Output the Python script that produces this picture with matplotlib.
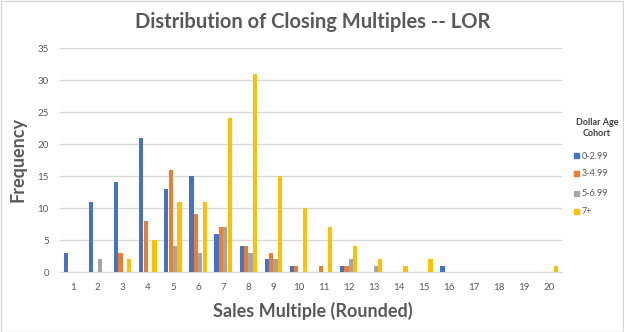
import numpy as np
import matplotlib
matplotlib.use('Agg')
import matplotlib.pyplot as plt
from matplotlib.patches import Rectangle

plt.rcParams['font.family'] = ['Lato', 'DejaVu Sans']

multiples = list(range(1, 21))
cohorts = ['0-2.99', '3-4.99', '5-6.99', '7+']
colors = ['#4472C4', '#ED7D31', '#A5A5A5', '#FFC000']

# frequencies per sales multiple (0 = no bar)
freq_0_3 = [3, 11, 14, 21, 13, 15, 6, 4, 2, 1, 0, 1, 0, 0, 0, 1, 0, 0, 0, 0]
freq_3_5 = [0, 0, 3, 8, 16, 9, 7, 4, 3, 1, 1, 1, 0, 0, 0, 0, 0, 0, 0, 0]
freq_5_7 = [0, 2, 0, 0, 4, 3, 7, 3, 2, 0, 0, 2, 1, 0, 0, 0, 0, 0, 0, 0]
freq_7p = [0, 0, 2, 5, 11, 11, 24, 31, 15, 10, 7, 4, 2, 1, 2, 0, 0, 0, 0, 1]
series = [freq_0_3, freq_3_5, freq_5_7, freq_7p]

W, H = 624, 332
fig = plt.figure(figsize=(W / 100, H / 100), dpi=100)
ax = fig.add_axes([60 / W, 1 - 272 / H, 502 / W, 224 / H])

x = np.arange(len(multiples))
bw = 0.165
step = 0.175
for k, (vals, col) in enumerate(zip(series, colors)):
    pos = x + (k - 1.5) * step
    ax.bar(pos, vals, width=bw, color=col, label=cohorts[k], zorder=3)

ax.set_xlim(-0.5, len(multiples) - 0.5)
ax.set_ylim(0, 35)
ax.set_yticks(range(0, 36, 5))
ax.set_xticks(x)
ax.set_xticklabels(multiples)
ax.tick_params(length=0, labelsize=7, colors='#595959')
ax.tick_params(axis='x', pad=8)
ax.tick_params(axis='y', pad=8)
ax.grid(axis='y', color='#d9d9d9', linewidth=1, zorder=0)
for s in ['top', 'right', 'left']:
    ax.spines[s].set_visible(False)
ax.spines['bottom'].set_color('#d9d9d9')

fig.text(313 / W, 1 - 22 / H, 'Distribution of Closing Multiples -- LOR', ha='center', va='center',
         fontsize=14.5, fontweight='bold', color='#595959')
fig.text(313 / W, 1 - 311 / H, 'Sales Multiple (Rounded)', ha='center', va='center',
         fontsize=13, fontweight='bold', color='#595959')
fig.text(18 / W, 1 - 160 / H, 'Frequency', ha='center', va='center', rotation=90,
         fontsize=13, fontweight='bold', color='#595959')

fig.text(597 / W, 1 - 128 / H, 'Dollar Age\nCohort', ha='center', va='center',
         fontsize=6.5, fontweight='bold', color='#404040', linespacing=1.3)
ys = [156, 174, 193, 211]
for yy, lab, col in zip(ys, cohorts, colors):
    fig.patches.append(Rectangle((574 / W, 1 - (yy + 2.5) / H), 5 / W, 5 / H,
                                 transform=fig.transFigure, color=col))
    fig.text(582 / W, 1 - yy / H, lab, ha='left', va='center', fontsize=6.5, color='#595959')

fig.patches.append(Rectangle((0.5 / W, 0.5 / H), 1 - 1.5 / W, 1 - 1.5 / H, transform=fig.transFigure,
                             fill=False, edgecolor='#d9d9d9', linewidth=1))

fig.savefig('out.png', dpi=100)
